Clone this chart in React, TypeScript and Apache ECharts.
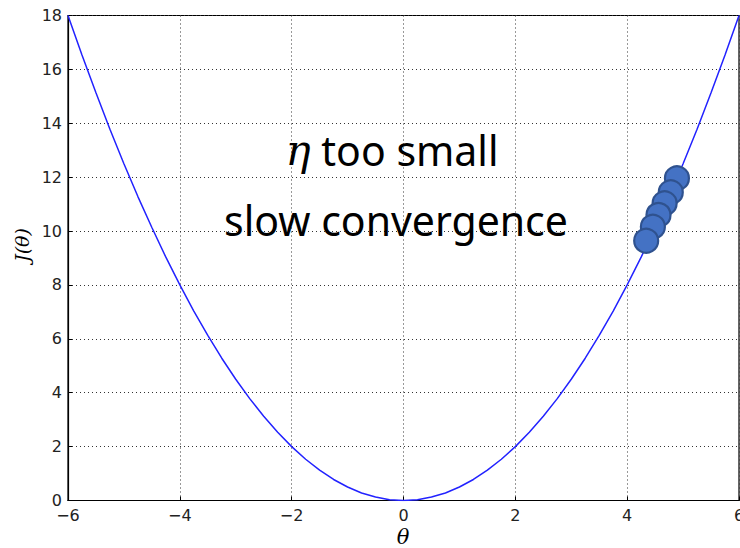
import React, { useEffect, useRef } from "react";
import * as echarts from "echarts";

const thetaValues = [
  -6, -5.75, -5.5, -5.25, -5, -4.75, -4.5, -4.25, -4, -3.75, -3.5, -3.25, -3,
  -2.75, -2.5, -2.25, -2, -1.75, -1.5, -1.25, -1, -0.75, -0.5, -0.25, 0,
  0.25, 0.5, 0.75, 1, 1.25, 1.5, 1.75, 2, 2.25, 2.5, 2.75, 3, 3.25, 3.5,
  3.75, 4, 4.25, 4.5, 4.75, 5, 5.25, 5.5, 5.75, 6,
];
const costValues = [
  18, 16.53, 15.13, 13.78, 12.5, 11.28, 10.13, 9.03, 8, 7.03, 6.13, 5.28, 4.5,
  3.78, 3.13, 2.53, 2, 1.53, 1.13, 0.78, 0.5, 0.28, 0.13, 0.03, 0,
  0.03, 0.13, 0.28, 0.5, 0.78, 1.13, 1.53, 2, 2.53, 3.13, 3.78, 4.5, 5.28, 6.13,
  7.03, 8, 9.03, 10.13, 11.28, 12.5, 13.78, 15.13, 16.53, 18,
];
const stepTheta = [4.89, 4.78, 4.67, 4.56, 4.46, 4.34];
const stepCost = [11.96, 11.44, 11.03, 10.6, 10.16, 9.64];
const xTicks = [-6, -4, -2, 0, 2, 4, 6];
const yTicks = [0, 2, 4, 6, 8, 10, 12, 14, 16, 18];

const fmt = (v: number) => (v < 0 ? "\u2212" + Math.abs(v) : String(v));

export default function App() {
  const ref = useRef<HTMLDivElement>(null);
  useEffect(() => {
    if (!ref.current) return;
    const chart = echarts.init(ref.current, null, { renderer: "svg" });
    const curve = thetaValues.map((t, i) => [t, costValues[i]]);
    const steps = stepTheta.map((t, i) => [t, stepCost[i]]);
    const tickFont = { fontFamily: "DejaVu Sans", fontSize: 16, color: "#222" };
    chart.setOption({
      animation: false,
      backgroundColor: "#fff",
      grid: {
        left: 68,
        right: 1,
        top: 15.5,
        bottom: 47.5,
        containLabel: false,
        outerBoundsMode: "none",
        show: true,
        borderColor: "#000",
        borderWidth: 1.2,
      },
      xAxis: {
        type: "value",
        min: xTicks[0],
        max: xTicks[xTicks.length - 1],
        interval: 2,
        axisLine: { show: true, onZero: false, lineStyle: { color: "#000", width: 1.2 } },
        axisTick: { show: true, inside: true, length: 4, lineStyle: { color: "#000" } },
        axisLabel: { ...tickFont, margin: 7, formatter: fmt },
        splitLine: { show: true, lineStyle: { color: "#333", type: [1, 3], width: 1 } },
      },
      yAxis: {
        type: "value",
        min: yTicks[0],
        max: yTicks[yTicks.length - 1],
        interval: 2,
        axisLine: { show: true, onZero: false, lineStyle: { color: "#000", width: 1.2 } },
        axisTick: { show: true, inside: true, length: 4, lineStyle: { color: "#000" } },
        axisLabel: { ...tickFont, margin: 6, formatter: fmt },
        splitLine: { show: true, lineStyle: { color: "#333", type: [1, 3], width: 1 } },
      },
      series: [
        {
          type: "line",
          data: curve,
          smooth: false,
          showSymbol: false,
          lineStyle: { color: "#2222ff", width: 1.5 },
          z: 2,
        },
        {
          type: "scatter",
          data: steps,
          symbolSize: 24,
          itemStyle: { color: "#4472C4", borderColor: "#2F528F", borderWidth: 2.2, opacity: 1 },
          z: 3,
        },
      ],
      graphic: [
        {
          type: "text",
          x: 392,
          y: 150,
          style: {
            text: "{eta|\u03b7} too small",
            fontFamily: "Noto Sans",
            fontSize: 41,
            fill: "#000",
            align: "center",
            verticalAlign: "middle",
            rich: {
              eta: { fontFamily: "DejaVu Serif", fontStyle: "italic", fontSize: 42, fill: "#000" },
            },
          },
          z: 10,
        },
        {
          type: "text",
          x: 396,
          y: 220,
          style: {
            text: "slow convergence",
            fontFamily: "Noto Sans",
            fontSize: 41,
            fill: "#000",
            align: "center",
            verticalAlign: "middle",
          },
          z: 10,
        },
        {
          type: "text",
          x: 22,
          y: 245,
          rotation: Math.PI / 2,
          style: {
            text: "J(\u03b8)",
            fontFamily: "DejaVu Serif",
            fontStyle: "italic",
            fontSize: 19,
            fill: "#000",
            align: "center",
            verticalAlign: "middle",
          },
        },
        {
          type: "text",
          x: 403,
          y: 537,
          style: {
            text: "\u03b8",
            fontFamily: "DejaVu Serif",
            fontStyle: "italic",
            fontSize: 21,
            fill: "#000",
            align: "center",
            verticalAlign: "middle",
          },
        },
      ],
    });
    return () => chart.dispose();
  }, []);
  return (
    <div
      ref={ref}
      style={{ position: "fixed", left: 0, top: 0, width: 740, height: 548 }}
    />
  );
}
